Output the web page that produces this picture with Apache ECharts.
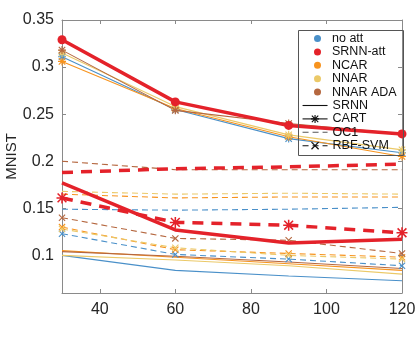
<!DOCTYPE html>
<html lang="en">
<head>
<meta charset="UTF-8">
<title>MNIST</title>
<script src="https://cdn.jsdelivr.net/npm/echarts@6/dist/echarts.min.js"></script>
<style>
  html, body { margin: 0; padding: 0; background: #fff; }
  #main { width: 415px; height: 340px; }
</style>
</head>
<body>
<div id="main"></div>
<script type="text/javascript">
  // x positions and tick labels
  var xs = [30, 60, 90, 120];
  var xTicks = [40, 60, 80, 100, 120];
  var yTicks = [0.1, 0.15, 0.2, 0.25, 0.3, 0.35];

  var methods = ['no att', 'SRNN-att', 'NCAR', 'NNAR', 'NNAR ADA'];
  var classifiers = ['SRNN', 'CART', 'OC1', 'RBF-SVM'];

  // SRNN (solid)
  var srnnNoAtt = [0.100, 0.084, 0.078, 0.073];
  var srnnAtt   = [0.177, 0.127, 0.113, 0.117];
  var srnnNcar  = [0.105, 0.098, 0.091, 0.084];
  var srnnNnar  = [0.100, 0.095, 0.089, 0.080];
  var srnnAda   = [0.104, 0.099, 0.093, 0.086];

  // CART (solid with *)
  var cartNoAtt = [0.311, 0.255, 0.224, 0.209];
  var cartAtt   = [0.329, 0.263, 0.238, 0.229];
  var cartNcar  = [0.306, 0.256, 0.226, 0.205];
  var cartNnar  = [0.315, 0.258, 0.228, 0.212];
  var cartAda   = [0.318, 0.254, 0.240, 0.229];

  // OC1 (dashed)
  var oc1NoAtt = [0.149, 0.148, 0.149, 0.151];
  var oc1Att   = [0.188, 0.192, 0.194, 0.197];
  var oc1Ncar  = [0.165, 0.161, 0.162, 0.162];
  var oc1Nnar  = [0.168, 0.165, 0.166, 0.165];
  var oc1Ada   = [0.200, 0.191, 0.191, 0.191];

  // RBF-SVM (dashed with x)
  var rbfNoAtt = [0.123, 0.101, 0.096, 0.089];
  var rbfAtt   = [0.161, 0.135, 0.132, 0.124];
  var rbfNcar  = [0.130, 0.106, 0.102, 0.098];
  var rbfNnar  = [0.128, 0.108, 0.100, 0.096];
  var rbfAda   = [0.140, 0.118, 0.116, 0.102];

  var table = [
    [srnnNoAtt, srnnAtt, srnnNcar, srnnNnar, srnnAda],
    [cartNoAtt, cartAtt, cartNcar, cartNnar, cartAda],
    [oc1NoAtt, oc1Att, oc1Ncar, oc1Nnar, oc1Ada],
    [rbfNoAtt, rbfAtt, rbfNcar, rbfNnar, rbfAda]
  ];

  var colors = ['#4a90c9', '#e4222a', '#f7931e', '#ebc968', '#b5673f'];

  var STAR = 'path://M4.3 0h1.4v10h-1.4z M0 4.3h10v1.4h-10z M0.5 1.5L1.5 0.5L9.5 8.5L8.5 9.5z M8.5 0.5L9.5 1.5L1.5 9.5L0.5 8.5z';
  var CROSS = 'path://M0.5 1.5L1.5 0.5L9.5 8.5L8.5 9.5z M8.5 0.5L9.5 1.5L1.5 9.5L0.5 8.5z';

  var series = [];
  for (var c = 0; c < classifiers.length; c++) {
    for (var m = 0; m < methods.length; m++) {
      var thick = m === 1;
      var dashed = c >= 2;
      var sym = 'none', size = 0;
      if (c === 1) { sym = thick ? 'circle' : STAR; size = thick ? 9 : 8; }
      if (c === 3) { sym = thick ? STAR : CROSS; size = thick ? 11 : 7; }
      series.push({
        name: methods[m] + ' ' + classifiers[c],
        type: 'line',
        data: xs.map(function (x, i) { return [x, table[c][m][i]]; }),
        symbol: sym,
        symbolSize: size,
        showSymbol: sym !== 'none',
        z: thick ? 3 : 2,
        itemStyle: { color: colors[m] },
        lineStyle: {
          color: colors[m],
          width: thick ? 3.5 : 1.1,
          type: dashed ? (thick ? [11, 8] : [6, 4]) : 'solid'
        },
        emphasis: { disabled: true }
      });
    }
  }

  // legend-only series
  methods.forEach(function (name, i) {
    series.push({ name: name, type: 'line', data: [], itemStyle: { color: colors[i] } });
  });
  var clear = 'rgba(0,0,0,0)';
  series.push({ name: 'SRNN', type: 'line', data: [], symbol: 'none', itemStyle: { color: clear }, lineStyle: { color: '#111', width: 1.1 } });
  series.push({ name: 'CART', type: 'line', data: [], symbol: STAR, itemStyle: { color: '#111' }, lineStyle: { color: '#111', width: 1.1 } });
  series.push({ name: 'OC1', type: 'line', data: [], symbol: 'none', itemStyle: { color: clear }, lineStyle: { color: '#555', width: 1.1, type: [6, 4] } });
  series.push({ name: 'RBF-SVM', type: 'line', data: [], symbol: CROSS, itemStyle: { color: '#111' }, lineStyle: { color: '#111', width: 1.1, type: [6, 4] } });

  var axisGrey = '#8a8a8a';
  var labelStyle = { color: '#262626', fontSize: 16, fontFamily: 'Liberation Sans, Arial, sans-serif' };

  var myChart = echarts.init(document.getElementById('main'));
  myChart.setOption({
    animation: false,
    backgroundColor: '#fff',
    grid: { left: 62, right: 13, top: 20, bottom: 47, outerBoundsMode: 'none', containLabel: false },
    legend: [{
      data: methods,
      orient: 'vertical',
      left: 314, top: 32,
      padding: 0,
      icon: 'circle',
      itemWidth: 7, itemHeight: 13, itemGap: 0.4,
      selectedMode: false,
      textStyle: { color: '#111', fontSize: 12.5, lineHeight: 13, padding: [0, 0, 0, 6], fontFamily: 'Liberation Sans, Arial, sans-serif' }
    }, {
      data: classifiers,
      orient: 'vertical',
      left: 302, top: 99,
      padding: 0,
      itemWidth: 25, itemHeight: 10, itemGap: 0.4,
      selectedMode: false,
      itemStyle: { borderWidth: 0 },
      lineStyle: { width: 1.1 },
      textStyle: { color: '#111', fontSize: 12.5, lineHeight: 13, fontFamily: 'Liberation Sans, Arial, sans-serif' }
    }],
    graphic: [{
      type: 'rect',
      left: 296, top: 28,
      shape: { width: 105, height: 125 },
      style: { fill: 'none', stroke: '#555', lineWidth: 1 },
      z: 10
    }],
    xAxis: [{
      type: 'value', min: 30, max: 120,
      axisLine: { show: true, lineStyle: { color: axisGrey } },
      axisTick: { show: true, inside: true, length: 4, customValues: xTicks, lineStyle: { color: axisGrey } },
      axisLabel: { customValues: xTicks, margin: 9, ...labelStyle },
      splitLine: { show: false }
    }, {
      type: 'value', min: 30, max: 120, position: 'top',
      axisLine: { show: true, lineStyle: { color: axisGrey } },
      axisTick: { show: true, inside: true, length: 4, customValues: xTicks, lineStyle: { color: axisGrey } },
      axisLabel: { show: false },
      splitLine: { show: false }
    }],
    yAxis: [{
      type: 'value', min: 0.06, max: 0.35,
      name: 'MNIST', nameLocation: 'middle', nameGap: 43, nameMoveOverlap: false,
      nameTextStyle: { color: '#262626', fontSize: 15, fontFamily: 'Liberation Sans, Arial, sans-serif' },
      axisLine: { show: true, lineStyle: { color: axisGrey } },
      axisTick: { show: true, inside: true, length: 4, customValues: yTicks, lineStyle: { color: axisGrey } },
      axisLabel: { customValues: yTicks, margin: 8, ...labelStyle },
      splitLine: { show: false }
    }, {
      type: 'value', min: 0.06, max: 0.35, position: 'right',
      axisLine: { show: true, lineStyle: { color: axisGrey } },
      axisTick: { show: true, inside: true, length: 4, customValues: yTicks, lineStyle: { color: axisGrey } },
      axisLabel: { show: false },
      splitLine: { show: false }
    }],
    series: series
  });
</script>
</body>
</html>
